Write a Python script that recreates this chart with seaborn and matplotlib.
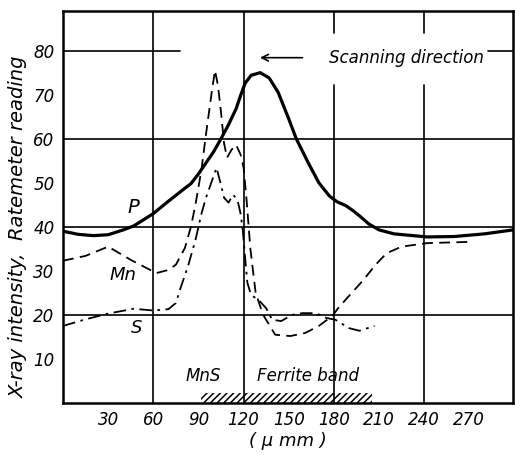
import numpy as np
import pandas as pd
import matplotlib
matplotlib.use("Agg")
import matplotlib.pyplot as plt
import seaborn as sns

# ── data ──────────────────────────────────────────────────────────────────────

p_x = [0, 10, 20, 30, 40, 47, 60, 70, 80, 85, 90, 100, 105, 110, 115, 118, 121, 125, 131,
       137, 143, 150, 155, 163, 170, 177, 182, 188, 193, 198, 203, 210, 220, 242, 260, 280, 299]
p_y = [39, 38.3, 38, 38.2, 39.3, 40.2, 43, 45.8, 48.5, 49.8, 52, 57, 60, 63.2, 66.8, 69.8, 72.6, 74.4, 75,
       73.8, 70.5, 64.5, 60, 54.5, 50, 47, 45.7, 44.8, 43.6, 42.2, 40.7, 39.3, 38.4, 37.7, 37.8, 38.4, 39.3]

mn_x = [0, 15, 30, 45, 62, 70, 75, 81, 85, 88, 92, 95, 99, 101, 103, 105, 107, 109, 112, 115,
        118, 120, 122, 124.5, 128, 133, 141, 151, 161, 170, 179, 183, 190, 199, 208, 215, 225, 242, 272]
mn_y = [32.3, 33.4, 35.5, 32.5, 29.5, 30.2, 31.4, 35.2, 40, 45, 53, 61, 71, 75.5, 72, 66, 59, 55.7, 57.5, 58.6,
        56.4, 53.4, 46, 35, 25, 20, 15.5, 15.2, 15.9, 17.5, 19.8, 21.6, 24.3, 27.7, 31.5, 34, 35.5, 36.3, 36.6]

s_x = [0, 15, 30, 47, 60, 70, 75, 78, 83, 88, 92, 95, 98, 102, 105, 107, 110, 113, 116, 118,
       119.5, 121, 122.5, 125, 130, 135, 139, 145, 152, 159, 168, 175, 181, 190, 197, 207]
s_y = [17.5, 19, 20.3, 21.4, 21, 21.3, 22.7, 26, 31, 37, 43, 46.6, 49.5, 53.4, 49.5, 46.6, 45.5, 47.3, 46, 43,
       39, 33, 27.3, 24.5, 23.4, 21.5, 18.9, 18.6, 20, 20.4, 20.4, 19.3, 18.9, 17, 16.4, 17.5]

x_ticks = [30, 60, 90, 120, 150, 180, 210, 240, 270]
y_ticks = [10, 20, 30, 40, 50, 60, 70, 80]
band_x = [92, 205]          # hatched ferrite band
band_h = 2.3

# ── figure ────────────────────────────────────────────────────────────────────

sns.set_style("white")
plt.rcParams["font.family"] = ["DejaVu Sans"]
plt.rcParams["text.color"] = "black"
plt.rcParams["hatch.linewidth"] = 1.1

fig = plt.figure(figsize=(5.15, 4.55), dpi=100)
ax = fig.add_axes([63 / 515, 52 / 455, 450 / 515, 392 / 455])

# grid (partly broken around the label, as in the print)
for yv in [20, 40, 60]:
    ax.axhline(yv, color="black", lw=1.2, zorder=1)
ax.axhline(80, xmin=0, xmax=0.26, color="black", lw=1.2, zorder=1)
ax.axhline(80, xmin=0.945, xmax=1, color="black", lw=1.2, zorder=1)
for xv in [60, 120]:
    ax.axvline(xv, color="black", lw=1.2, zorder=1)
for xv in [180, 240]:
    ax.axvline(xv, ymin=0, ymax=0.81, color="black", lw=1.2, zorder=1)
    ax.axvline(xv, ymin=0.945, ymax=1, color="black", lw=1.2, zorder=1)

sns.lineplot(x=p_x, y=p_y, ax=ax, color="black", linewidth=2.3, estimator=None, zorder=3)
sns.lineplot(x=mn_x, y=mn_y, ax=ax, color="black", linewidth=1.3, linestyle=(0, (6, 3.5)),
             estimator=None, zorder=3)
sns.lineplot(x=s_x, y=s_y, ax=ax, color="black", linewidth=1.3, linestyle=(0, (7, 3, 1.5, 3)),
             estimator=None, zorder=3)

ax.fill_between(band_x, 0, band_h, facecolor="none", edgecolor="black", hatch="/////", lw=0)

ax.set_xlim(0, 299)
ax.set_ylim(0, 89)
ax.set_xticks(x_ticks)
ax.set_yticks(y_ticks)
ax.set_xticklabels([str(t) for t in x_ticks], fontsize=12, fontstyle="italic")
ax.set_yticklabels([str(t) for t in y_ticks], fontsize=12, fontstyle="italic")
ax.tick_params(direction="in", length=5, width=1.1, color="black", labelcolor="black", pad=6)
for s in ax.spines.values():
    s.set_linewidth(1.8)
    s.set_color("black")

ax.set_ylabel("X-ray intensity,  Ratemeter reading", fontsize=14, fontstyle="italic", color="black")
ax.yaxis.set_label_coords(-0.078, 0.45)
ax.set_xlabel("( \u03bc mm )", fontsize=13, fontstyle="italic", color="black", labelpad=2)

# annotations
ax.text(47, 44.3, "P", fontsize=14, fontstyle="italic", ha="center", va="center")
ax.text(40, 29, "Mn", fontsize=13, fontstyle="italic", ha="center", va="center")
ax.text(49, 17, "S", fontsize=13, fontstyle="italic", ha="center", va="center")
ax.text(93, 6.1, "MnS", fontsize=12, fontstyle="italic", ha="center", va="center")
ax.text(163, 6.1, "Ferrite band", fontsize=12, fontstyle="italic", ha="center", va="center")
ax.text(228, 78.4, "Scanning direction", fontsize=12, fontstyle="italic", ha="center", va="center")
ax.annotate("", xy=(129, 78.4), xytext=(161, 78.4),
            arrowprops=dict(arrowstyle="->", color="black", lw=1.2, mutation_scale=12))

plt.savefig("out.png", dpi=100)
